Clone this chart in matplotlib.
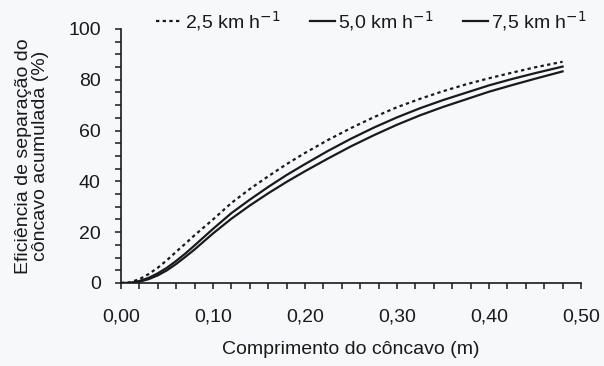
import numpy as np
import matplotlib
matplotlib.use('Agg')
import matplotlib.pyplot as plt
from matplotlib.ticker import MultipleLocator, FuncFormatter

plt.rcParams['font.family'] = ['Liberation Sans', 'DejaVu Sans']

# comprimento do concavo (m)
comprimento = [0.00, 0.01, 0.02, 0.03, 0.04, 0.05, 0.06, 0.07, 0.08, 0.10, 0.12, 0.14,
               0.16, 0.18, 0.20, 0.225, 0.25, 0.275, 0.30, 0.325, 0.35, 0.375, 0.40,
               0.425, 0.45, 0.48]
# eficiencia acumulada (%) por velocidade
ef_25 = [0, 0.3, 1.5, 3.5, 6, 9, 12.3, 15.5, 18.8, 25, 31.5, 37, 42, 46.8, 51.2, 56.3,
         61, 65.3, 69.2, 72.5, 75.5, 78.2, 80.6, 82.8, 84.9, 87.1]
ef_50 = [0, 0, 0.8, 2, 3.8, 6, 8.7, 11.6, 14.8, 21.3, 27.5, 32.8, 37.8, 42.5, 46.8, 52,
         56.8, 61.2, 65.2, 68.8, 72, 74.9, 77.8, 80.3, 82.6, 85.2]
ef_75 = [0, 0, 0.5, 1.5, 3, 5, 7.5, 10.3, 13.2, 19.5, 25.3, 30.5, 35.3, 39.8, 44, 49,
         53.8, 58.2, 62.3, 66, 69.3, 72.3, 75.3, 77.9, 80.4, 83.3]
legendas = ['2,5 km h$^{-1}$', '5,0 km h$^{-1}$', '7,5 km h$^{-1}$']

cor = '#1a1a1a'
fundo = '#f6f8f9'
fs = 14

fig = plt.figure(figsize=(6.04, 3.66), dpi=100, facecolor=fundo)
ax = fig.add_axes([0.2003, 0.2268, 0.7616, 0.694])
ax.set_facecolor(fundo)

ax.plot(comprimento, ef_25, color=cor, lw=1.6, ls=(0, (1.5, 1.5)), label=legendas[0])
ax.plot(comprimento, ef_50, color=cor, lw=1.6, label=legendas[1])
ax.plot(comprimento, ef_75, color=cor, lw=1.6, label=legendas[2])

ax.set_xlim(0, 0.5)
ax.set_ylim(0, 100)
for s in ['top', 'right']:
    ax.spines[s].set_visible(False)
for s in ['left', 'bottom']:
    ax.spines[s].set_color(cor)
    ax.spines[s].set_linewidth(1.2)

ax.xaxis.set_major_locator(MultipleLocator(0.1))
ax.xaxis.set_minor_locator(MultipleLocator(0.02))
ax.yaxis.set_major_locator(MultipleLocator(20))
ax.yaxis.set_minor_locator(MultipleLocator(5))
ax.xaxis.set_major_formatter(FuncFormatter(lambda v, p: '{:.2f}'.format(v).replace('.', ',')))
ax.tick_params(which='both', direction='out', color=cor, width=1.1, length=4.5,
               labelcolor=cor, labelsize=fs)
ax.tick_params(axis='x', pad=14)
ax.tick_params(axis='y', pad=10)
for t in ax.get_xticklines() + ax.get_yticklines():
    t.set_clip_on(False)

ax.set_xlabel('Comprimento do côncavo (m)', fontsize=fs, color=cor, labelpad=11)
ax.set_ylabel('Eficiência de separação do\ncôncavo acumulada (%)', fontsize=fs,
              color=cor, labelpad=14, linespacing=0.95)

ax.legend(loc='lower left', bbox_to_anchor=(0.06, 0.955), ncol=3, frameon=False,
          fontsize=fs, handlelength=1.3, handletextpad=0.15, columnspacing=1.5,
          labelcolor=cor, borderaxespad=0)

fig.savefig('out.png', dpi=100, facecolor=fig.get_facecolor())
